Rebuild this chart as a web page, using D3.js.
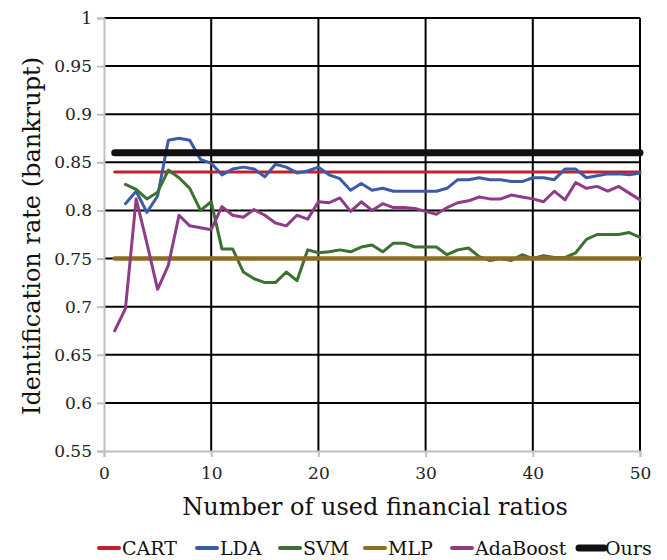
<!DOCTYPE html>
<html>
<head>
<meta charset="utf-8">
<script src="https://cdn.jsdelivr.net/npm/d3@7"></script>
<style>
  html, body { margin: 0; padding: 0; background: #fff; }
  svg { display: block; font-family: "DejaVu Serif", serif; }
</style>
</head>
<body>
<svg id="chart" width="667" height="560"></svg>
<script>
// Number of financial ratios used (x) for each method
const xsFull = d3.range(1, 51);
const xsFrom2 = d3.range(2, 51);

// Constant baselines
const cartValue = 0.84;
const mlpValue = 0.75;
const oursValue = 0.86;

// LDA, x = 2..50
const ldaValues = [0.807, 0.820, 0.798, 0.815, 0.873, 0.875, 0.873, 0.853, 0.849,
  0.837, 0.843, 0.845, 0.843, 0.835, 0.848, 0.845, 0.839, 0.841, 0.845,
  0.837, 0.833, 0.821, 0.828, 0.821, 0.823, 0.820, 0.820, 0.820, 0.820,
  0.820, 0.823, 0.832, 0.832, 0.834, 0.832, 0.832, 0.830, 0.830, 0.834,
  0.834, 0.832, 0.843, 0.843, 0.834, 0.836, 0.838, 0.838, 0.837, 0.839];

// SVM, x = 2..50
const svmValues = [0.827, 0.822, 0.812, 0.819, 0.842, 0.834, 0.823, 0.800, 0.809,
  0.760, 0.760, 0.736, 0.729, 0.725, 0.725, 0.736, 0.727, 0.759, 0.756,
  0.757, 0.759, 0.757, 0.762, 0.764, 0.757, 0.766, 0.766, 0.762, 0.762,
  0.762, 0.754, 0.759, 0.761, 0.752, 0.748, 0.750, 0.748, 0.754, 0.750,
  0.753, 0.751, 0.751, 0.756, 0.770, 0.775, 0.775, 0.775, 0.777, 0.772];

// AdaBoost, x = 1..50
const adaValues = [0.675, 0.698, 0.812, 0.766, 0.718, 0.743, 0.795, 0.784, 0.782, 0.780,
  0.804, 0.795, 0.793, 0.801, 0.795, 0.787, 0.784, 0.795, 0.791, 0.809,
  0.808, 0.813, 0.799, 0.809, 0.800, 0.807, 0.803, 0.803, 0.802, 0.799,
  0.796, 0.803, 0.808, 0.810, 0.814, 0.812, 0.812, 0.816, 0.814, 0.812,
  0.809, 0.820, 0.811, 0.829, 0.823, 0.825, 0.820, 0.825, 0.818, 0.811];

const xTicks = [0, 10, 20, 30, 40, 50];
const yTicks = [0.55, 0.6, 0.65, 0.7, 0.75, 0.8, 0.85, 0.9, 0.95, 1];

const series = [
  { name: "CART", color: "#c4202b", width: 3, xs: xsFull, ys: xsFull.map(() => cartValue) },
  { name: "LDA", color: "#3b5ba9", width: 3, xs: xsFrom2, ys: ldaValues },
  { name: "SVM", color: "#3b7131", width: 3, xs: xsFrom2, ys: svmValues },
  { name: "MLP", color: "#8c6d22", width: 4.5, xs: xsFull, ys: xsFull.map(() => mlpValue) },
  { name: "AdaBoost", color: "#8f3b88", width: 3, xs: xsFull, ys: adaValues },
  { name: "Ours", color: "#111111", width: 7, xs: xsFull, ys: xsFull.map(() => oursValue) }
];

const svg = d3.select("#chart");
const plotL = 104, plotR = 640, plotT = 18, plotB = 451;

const x = d3.scaleLinear().domain([0, 50]).range([plotL, plotR]);
const y = d3.scaleLinear().domain([0.55, 1]).range([plotB, plotT]);

// Black gridlines
const grid = svg.append("g");
grid.selectAll("line.h").data(yTicks.filter(v => v > 0.55)).join("line")
  .attr("class", "h")
  .attr("x1", plotL).attr("x2", plotR)
  .attr("y1", d => y(d)).attr("y2", d => y(d))
  .attr("stroke", "#000").attr("stroke-width", 2);
grid.selectAll("line.v").data(xTicks.filter(v => v > 0)).join("line")
  .attr("class", "v")
  .attr("x1", d => x(d)).attr("x2", d => x(d))
  .attr("y1", plotT).attr("y2", plotB)
  .attr("stroke", "#000").attr("stroke-width", 2);

// Axes (grey lines and ticks)
const yAxis = svg.append("g").attr("transform", `translate(${plotL},0)`)
  .call(d3.axisLeft(y).tickValues(yTicks).tickSize(7).tickPadding(5)
    .tickFormat(d => String(+d.toFixed(2))));
const xAxis = svg.append("g").attr("transform", `translate(0,${plotB})`)
  .call(d3.axisBottom(x).tickValues(xTicks).tickSize(6).tickPadding(10));
[yAxis, xAxis].forEach(a => {
  a.select(".domain").attr("stroke", "#c0c0c0").attr("stroke-width", 2);
  a.selectAll(".tick line").attr("stroke", "#c0c0c0").attr("stroke-width", 2);
  a.selectAll(".tick text").attr("fill", "#222").style("font-size", "17px")
    .style("font-family", "'DejaVu Serif', serif");
});

// Series lines
const line = d3.line().x(d => x(d[0])).y(d => y(d[1]));
series.forEach(s => {
  svg.append("path")
    .datum(s.xs.map((v, i) => [v, s.ys[i]]))
    .attr("d", line)
    .attr("fill", "none")
    .attr("stroke", s.color)
    .attr("stroke-width", s.width)
    .attr("stroke-linejoin", "round")
    .attr("stroke-linecap", "round");
});

// Axis titles
svg.append("text")
  .attr("x", 375).attr("y", 515)
  .attr("text-anchor", "middle")
  .attr("fill", "#111")
  .style("font-size", "24px")
  .text("Number of used financial ratios");

svg.append("text")
  .attr("transform", `translate(40,236) rotate(-90)`)
  .attr("text-anchor", "middle")
  .attr("fill", "#111")
  .style("font-size", "24px")
  .text("Identification rate (bankrupt)");

// Legend
const legendX = [97, 195, 278, 363, 450, 577];
const legend = svg.append("g");
series.forEach((s, i) => {
  const isOurs = s.name === "Ours";
  const g = legend.append("g").attr("transform", `translate(${legendX[i]},548)`);
  g.append("line")
    .attr("x1", 2).attr("x2", isOurs ? 27 : 22)
    .attr("y1", 0).attr("y2", 0)
    .attr("stroke", s.color)
    .attr("stroke-width", isOurs ? 7 : 4)
    .attr("stroke-linecap", "round");
  g.append("text")
    .attr("x", isOurs ? 28 : 25).attr("y", 7)
    .attr("fill", "#111")
    .style("font-size", "19px")
    .text(s.name);
});
</script>
</body>
</html>
